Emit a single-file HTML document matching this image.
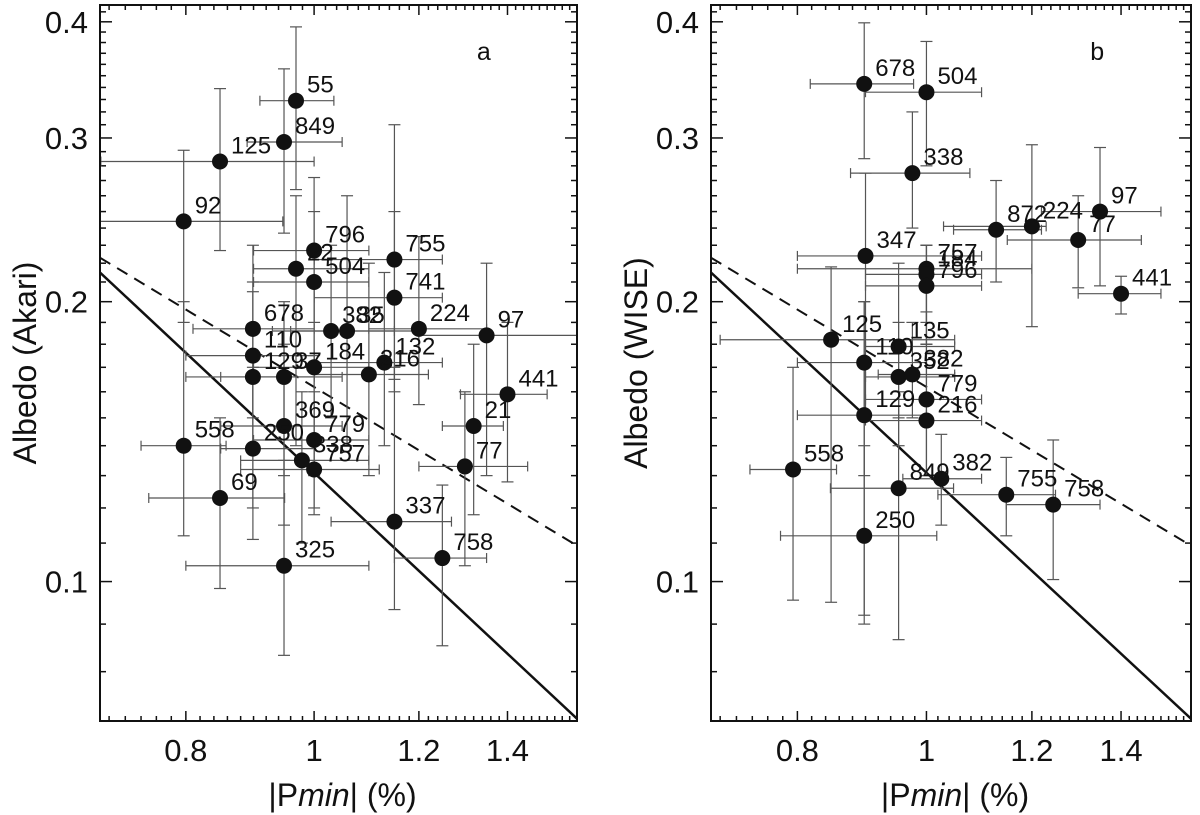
<!DOCTYPE html>
<html><head><meta charset="utf-8"><style>
body{margin:0;background:#fff;width:1200px;height:815px;overflow:hidden}
svg{display:block;font-family:"Liberation Sans",sans-serif}
</style></head><body>
<svg id="chart" width="1200" height="815"></svg>
<script>
// Panel a (Akari)
const aLabels=["55","849","125","92","796","22","504","755","741","678","382","35","224","97","110","129","37","132","216","184","441","21","369","779","558","250","338","757","77","69","337","758","325"];
const aX=[0.969,0.949,0.849,0.797,1.0,0.969,1.0,1.15,1.15,0.899,1.03,1.059,1.2,1.35,0.899,0.899,0.949,1.13,1.10,1.0,1.4,1.32,0.949,1.0,0.797,0.899,0.979,1.0,1.30,0.849,1.15,1.25,0.949];
const aY=[0.329,0.297,0.283,0.244,0.227,0.217,0.210,0.222,0.202,0.187,0.186,0.186,0.187,0.184,0.175,0.166,0.166,0.172,0.167,0.170,0.159,0.147,0.147,0.142,0.140,0.139,0.135,0.132,0.133,0.123,0.116,0.106,0.104];
const aXLo=[0.91,0.89,0.69,0.66,0.90,0.90,0.90,1.0,1.0,0.81,0.93,0.96,1.1,1.2,0.80,0.80,0.85,1.0,1.0,0.90,1.29,1.25,0.85,0.90,0.74,0.85,0.88,0.88,1.2,0.75,1.03,1.15,0.80];
const aXHi=[1.035,1.05,1.0,0.947,1.10,1.10,1.10,1.25,1.25,1.0,1.15,1.2,1.35,1.58,1.0,1.0,1.05,1.25,1.22,1.10,1.5,1.39,1.05,1.10,0.858,1.0,1.10,1.12,1.45,0.95,1.27,1.35,1.10];
const aYLo=[0.264,0.237,0.227,0.19,0.19,0.14,0.17,0.165,0.16,0.15,0.15,0.14,0.155,0.13,0.14,0.12,0.13,0.14,0.13,0.13,0.128,0.118,0.115,0.118,0.112,0.111,0.11,0.12,0.104,0.0983,0.0933,0.0853,0.0833];
const aYHi=[0.395,0.356,0.339,0.291,0.272,0.26,0.25,0.31,0.25,0.23,0.23,0.26,0.235,0.22,0.21,0.205,0.2,0.215,0.22,0.21,0.19,0.18,0.18,0.175,0.2,0.17,0.16,0.16,0.16,0.15,0.17,0.127,0.135];
// Panel b (WISE)
const bLabels=["678","504","338","872","224","97","77","347","757","184","796","441","125","135","110","352","382","779","129","216","558","382","849","755","758","250"];
const bX=[0.898,1.0,0.976,1.128,1.2,1.35,1.30,0.90,1.0,1.0,1.0,1.4,0.848,0.953,0.898,0.953,0.976,1.0,0.898,1.0,0.794,1.026,0.953,1.148,1.245,0.898];
const bY=[0.343,0.336,0.275,0.239,0.241,0.250,0.233,0.224,0.217,0.214,0.208,0.204,0.182,0.179,0.172,0.166,0.167,0.157,0.151,0.149,0.132,0.129,0.126,0.124,0.121,0.112];
const bXLo=[0.818,0.90,0.877,1.048,1.03,1.22,1.15,0.80,0.80,0.90,0.90,1.30,0.70,0.90,0.80,0.90,0.92,0.90,0.80,0.90,0.737,0.96,0.847,1.02,1.148,0.777];
const bXHi=[0.978,1.10,1.078,1.22,1.23,1.5,1.45,1.10,1.2,1.10,1.10,1.5,1.05,1.05,1.0,1.05,1.05,1.10,1.0,1.10,0.856,1.10,1.048,1.25,1.35,1.018];
const bYLo=[0.285,0.28,0.24,0.21,0.188,0.208,0.207,0.15,0.19,0.18,0.18,0.194,0.095,0.15,0.13,0.14,0.15,0.13,0.09,0.13,0.0955,0.115,0.0866,0.112,0.1005,0.092];
const bYHi=[0.399,0.381,0.32,0.27,0.295,0.293,0.26,0.275,0.23,0.23,0.23,0.213,0.218,0.22,0.20,0.19,0.19,0.18,0.20,0.195,0.17,0.144,0.16,0.136,0.142,0.14];
// Fit lines (value endpoints)
const solidLine=[[0.689,0.215],[1.58,0.0712]];
const dashLine=[[0.689,0.223],[1.58,0.1093]];
const xTicks=[0.8,1,1.2,1.4];
const xTickLabels=["0.8","1","1.2","1.4"];
const yTicks=[0.1,0.2,0.3,0.4];
const yTickLabels=["0.1","0.2","0.3","0.4"];

const NS="http://www.w3.org/2000/svg";
const svg=document.getElementById('chart');
function el(tag,attrs,parent,text){const e=document.createElementNS(NS,tag);for(const k in attrs)e.setAttribute(k,attrs[k]);if(text!==undefined)e.textContent=text;(parent||svg).appendChild(e);return e;}
const XMIN=0.689,XMAX=1.58,YMIN=0.0708,YMAX=0.417,TOP=5,BOT=721;
function panel(L,R,name,letter,ylabel,labels,X,Y,XL,XH,YL,YH){
  const g=el('g',{});
  
  
  const xs=v=>L+(R-L)*(Math.log10(v)-Math.log10(XMIN))/(Math.log10(XMAX)-Math.log10(XMIN));
  const ys=v=>BOT-(BOT-TOP)*(Math.log10(v)-Math.log10(YMIN))/(Math.log10(YMAX)-Math.log10(YMIN));
  const clip='clip'+letter;
  const d=el('defs',{},g);const cp=el('clipPath',{id:clip},d);el('rect',{x:L,y:TOP,width:R-L,height:BOT-TOP},cp);
  for(let i=70;i<=158;i+=2){const v=i/100;const x=xs(v);const maj=xTicks.some(t=>Math.abs(t-v)<1e-6);const len=maj?10:5;
    el('line',{x1:x,y1:BOT,x2:x,y2:BOT-len,stroke:'#111','stroke-width':1.5},g);
    el('line',{x1:x,y1:TOP,x2:x,y2:TOP+len,stroke:'#111','stroke-width':1.5},g);}
  for(let i=8;i<=41;i++){const v=i/100;const y=ys(v);if(y<TOP||y>BOT)continue;const maj=yTicks.some(t=>Math.abs(t-v)<1e-6);const len=maj?12:6;
    el('line',{x1:L,y1:y,x2:L+len,y2:y,stroke:'#111','stroke-width':1.5},g);
    el('line',{x1:R,y1:y,x2:R-len,y2:y,stroke:'#111','stroke-width':1.5},g);}
  xTicks.forEach((t,i)=>{const tl=el('text',{x:xs(t),y:761,'font-size':31,'text-anchor':'middle',fill:'#111'},g,xTickLabels[i]);
    
    });
  yTicks.forEach((t,i)=>{const tl=el('text',{x:L-12,y:ys(t)+11,'font-size':31,'text-anchor':'end',fill:'#111'},g,yTickLabels[i]);
    
    });
  const xt=el('text',{x:(L+R)/2+4,y:806,'font-size':32,'text-anchor':'middle',fill:'#111'},g);
  
  
  el('tspan',{},xt,'|P');el('tspan',{'font-style':'italic'},xt,'min');el('tspan',{},xt,'| (%)');
  const yt=el('text',{x:0,y:0,'font-size':32,'text-anchor':'middle',fill:'#111',transform:`translate(${L-64},${363}) rotate(-90)`},g,ylabel);
  
  
  const pl=el('text',{x:L+(R-L)*0.79,y:60,'font-size':25,fill:'#111'},g,letter);
  
  
  const cg=el('g',{'clip-path':`url(#${clip})`},g);
  const sl=el('line',{x1:xs(solidLine[0][0]),y1:ys(solidLine[0][1]),x2:xs(solidLine[1][0]),y2:ys(solidLine[1][1]),stroke:'#111','stroke-width':2.5},cg);
  
  
  const dl=el('line',{x1:xs(dashLine[0][0]),y1:ys(dashLine[0][1]),x2:xs(dashLine[1][0]),y2:ys(dashLine[1][1]),stroke:'#111','stroke-width':2,'stroke-dasharray':'12,8'},cg);
  
  
  for(let i=0;i<X.length;i++){
    const x=xs(X[i]),y=ys(Y[i]);
    const eb=el('g',{stroke:'#555','stroke-width':1.2},cg);
    
    
    const x1=xs(XL[i]),x2=xs(XH[i]),y1=ys(YH[i]),y2=ys(YL[i]);
    el('line',{x1:x1,y1:y,x2:x2,y2:y},eb);el('line',{x1:x1,y1:y-5,x2:x1,y2:y+5},eb);el('line',{x1:x2,y1:y-5,x2:x2,y2:y+5},eb);
    el('line',{x1:x,y1:y1,x2:x,y2:y2},eb);el('line',{x1:x-6,y1:y1,x2:x+6,y2:y1},eb);el('line',{x1:x-6,y1:y2,x2:x+6,y2:y2},eb);
  }
  for(let i=0;i<X.length;i++){
    const x=xs(X[i]),y=ys(Y[i]);
    const c=el('circle',{cx:x,cy:y,r:8,fill:'#111'},g);
    
    
    const t=el('text',{x:x+11,y:y-8,'font-size':24,fill:'#111'},g,labels[i]);
    
    
  }
  const fr=el('rect',{x:L,y:TOP,width:R-L,height:BOT-TOP,fill:'none',stroke:'#111','stroke-width':2},g);
  
  
}
panel(100,577,'panel-a-akari','a','Albedo (Akari)',aLabels,aX,aY,aXLo,aXHi,aYLo,aYHi);
panel(711,1191,'panel-b-wise','b','Albedo (WISE)',bLabels,bX,bY,bXLo,bXHi,bYLo,bYHi);
</script>
</body></html>
